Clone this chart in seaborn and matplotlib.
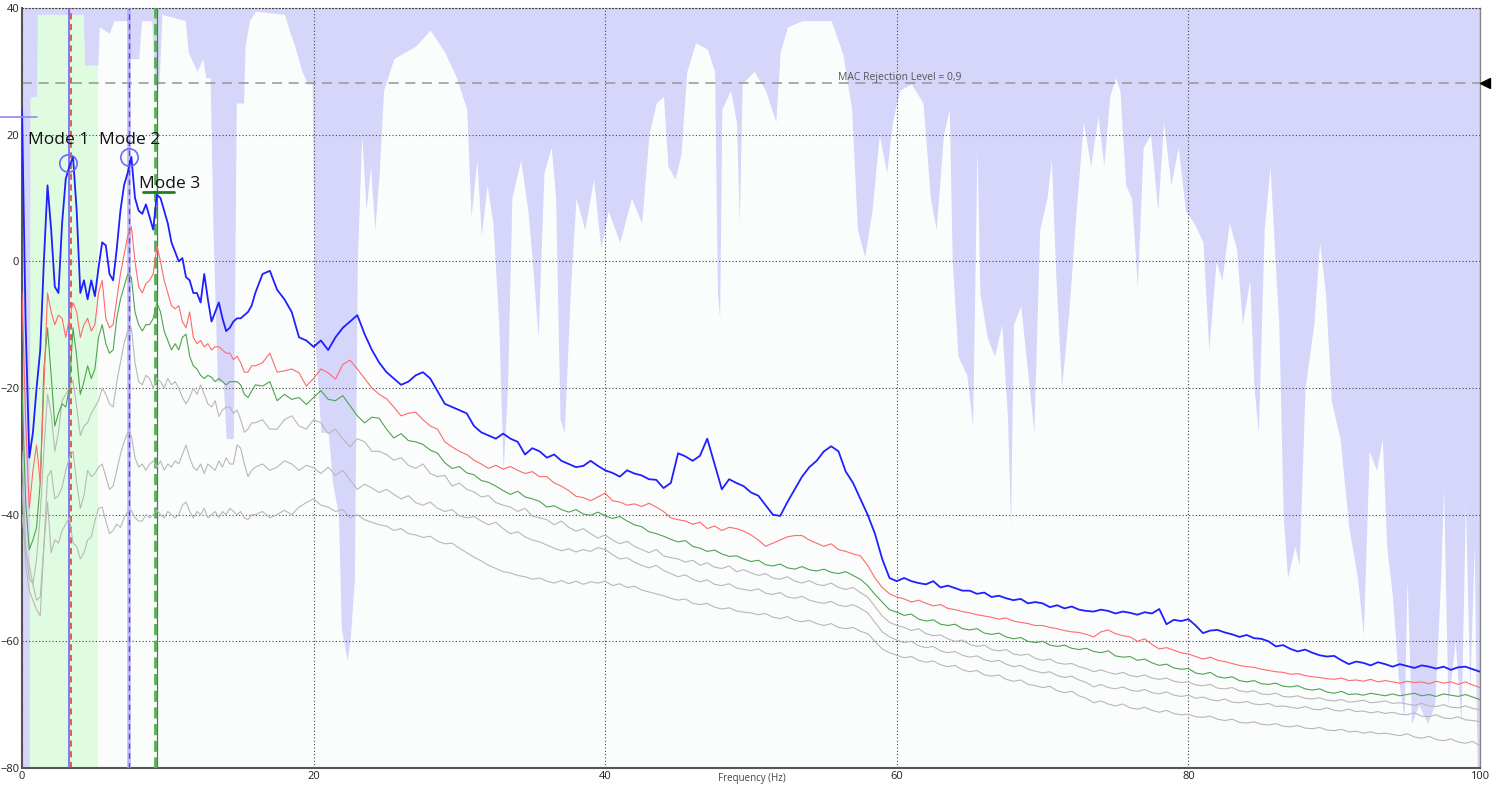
import numpy as np
import pandas as pd
import matplotlib
matplotlib.use("Agg")
import matplotlib.pyplot as plt
import seaborn as sns

# ---------------- data ----------------
FREQ_LO = np.arange(0, 16, 0.25)          # 0 .. 15.75 Hz
FREQ_HI = np.arange(16, 100.01, 0.5)      # 16 .. 100 Hz

SV1_LO = [24, -10, -31, -27,  -20, -14, 0, 12,  5, -4, -5, 6,  13, 15, 16.5, 8,
          -5, -3, -6, -3,  -5.5, -1, 3, 2.5,  -2, -3, 2, 8,  12, 14, 16.5, 10,
          8, 7.5, 9, 7,  5, 10.5, 10, 8,  6, 3, 1.5, 0,  0.5, -2.5, -3, -5,
          -5, -6.5, -2, -6,  -9.5, -8, -6.5, -9,  -11, -10.5, -9.5, -9,  -9, -8.5, -8, -7]
SV1_HI = [-5, -2, -1.5, -4.5, -6, -8, -12, -12.5, -13.5, -12.5,
          -14, -12, -10.5, -9.5, -8.5, -11.5, -14, -16, -17.5, -18.5,
          -19.5, -19, -18, -17.5, -18.5, -20.5, -22.5, -23, -23.5, -24,
          -26, -27, -27.5, -28, -27.2, -28, -28.5, -30.5, -29.5, -30,
          -31, -30.5, -31.5, -32, -32.5, -32.3, -31.5, -32.3, -33, -33.4,
          -34, -33, -33.5, -33.8, -34.4, -34.5, -35.8, -35, -30.3, -30.8,
          -31.5, -30.7, -28, -32, -36, -34.4, -35, -35.5, -36.5, -37,
          -38.5, -40, -40.2, -38, -36, -34, -32.5, -31.5, -30, -29.2,
          -30, -33.2, -35, -37.5, -40, -43, -47, -50, -50.5, -50,
          -50.5, -50.8, -51, -50.5, -51.5, -51.2, -51.6, -52, -52, -52.5,
          -52.3, -53, -52.8, -53.2, -53.5, -53.3, -54, -53.8, -54, -54.6,
          -54.3, -54.8, -54.5, -55, -55.2, -55.3, -55, -55.2, -55.6, -55.3,
          -55.5, -55.8, -55.4, -55.6, -54.9, -57.3, -56.6, -56.8, -56.5, -57.5,
          -58.7, -58.3, -58.2, -58.6, -58.9, -59.3, -59, -59.5, -59.6, -60,
          -60.8, -60.6, -61.2, -61.6, -61.3, -61.8, -62.2, -62.4, -62.3, -63,
          -63.6, -63.2, -63.4, -63.8, -63.3, -63.6, -64, -63.6, -63.9, -64.2,
          -63.8, -64, -64.3, -64, -64.5, -64.1, -64, -64.4, -64.8]

SV2_LO = [-5, -25, -39, -33,  -29, -35, -20, -5,  -8, -10, -8.5, -9,  -12, -9, -6.5, -8,
          -12, -10, -9, -11,  -10, -5, -3, -9,  -10.5, -10, -6, -2,  1, 4, 5.5, 0,
          -4, -5, -3.5, -3,  -2, 2.5, 0, -3,  -5, -7, -7.5, -7,  -9.5, -10.5, -8, -12,
          -13, -12.5, -13.5, -13,  -14, -13.5, -13.5, -14,  -14.5, -14.5, -15.5, -15,  -16, -17.5, -17.5, -16.5]
SV2_HI = [-16.5, -16, -14.5, -17.5, -17.3, -17, -17.6, -19.7, -18.5, -17,
          -17.6, -18.6, -16.3, -15.6, -17, -18.5, -20, -21, -21.7, -23,
          -24.4, -24, -23.8, -25, -26, -26.5, -28.5, -29.3, -30, -30.5,
          -31.4, -32, -32.7, -32.2, -32.8, -32.4, -33, -33.5, -33.2, -34,
          -34, -35, -35.5, -36.2, -37.1, -37.3, -37.8, -37.2, -36.6, -37.8,
          -38, -38.5, -38.3, -38.7, -38.2, -38.8, -39.5, -40.5, -40.8, -41,
          -41.5, -41.2, -42.2, -41.8, -42.5, -42, -42.2, -42.6, -43.2, -44,
          -45, -44.5, -44, -43.5, -43.3, -43.3, -44, -44.5, -45, -44.6,
          -45.5, -45.8, -46.2, -46.5, -48, -50, -51.5, -52.5, -53, -53.3,
          -53.8, -53.5, -54, -54.4, -54.2, -54.8, -55, -55.3, -55.5, -55.8,
          -56, -56.2, -56.5, -56.3, -56.8, -57, -57.2, -57.5, -57.5, -57.8,
          -58, -58.3, -58.5, -58.6, -58.9, -59.3, -58.5, -58.2, -58.8, -59.1,
          -59.3, -60, -59.6, -60.5, -61.2, -61, -61.4, -61.8, -62, -62.4,
          -62.8, -62.5, -63, -63.2, -63.5, -63.8, -64, -64.1, -64.4, -64.6,
          -64.8, -64.9, -65.2, -65.1, -65.4, -65.6, -65.7, -65.9, -66, -65.8,
          -66.2, -66.1, -66.3, -66, -66.4, -66.2, -66.4, -66.6, -66.3, -66.5,
          -66.4, -66.7, -66.3, -66.6, -66.4, -66.8, -66.4, -66.9, -67.3]

SV3_LO = [-20, -38, -45.5, -44,  -42, -35, -17, -10.5,  -18, -26, -24, -22.5,  -23, -20, -10.5, -15,
          -21, -19, -16.5, -18.5,  -17, -12, -10, -13,  -14.5, -14, -9, -6,  -4, -2, -2.5, -8,
          -10, -11, -10, -10,  -9, -6.5, -8, -11,  -12.5, -14, -13, -14,  -12, -11.5, -15, -16.5,
          -17, -18, -18.5, -18,  -18.3, -19, -18.5, -19,  -19.5, -19, -19, -19,  -19.5, -21, -21.5, -20.5]
SV3_HI = [-19.5, -19.7, -19, -22, -21, -21.8, -21.5, -22.6, -21.5, -20.4,
          -21.8, -22, -21.2, -22.8, -24.4, -25.5, -24.6, -24.8, -26.5, -27.9,
          -27.2, -28.3, -28.5, -28.9, -29.8, -30.3, -31.8, -32.7, -32.4, -33.4,
          -33.7, -34.6, -34.9, -35.5, -36.2, -36.8, -36.3, -37.2, -37.5, -37.9,
          -38.8, -38.6, -39.2, -39.6, -39.2, -39.9, -40.1, -39.6, -40.2, -40.6,
          -40.3, -41, -41.6, -41.9, -42.7, -43, -43.4, -43.9, -44.3, -44.1,
          -45, -45.3, -45.8, -45.6, -46.2, -46.6, -46.5, -47, -47.4, -47.2,
          -47.9, -48.1, -47.8, -48.4, -48.6, -48.2, -48.7, -48.9, -48.6, -49.1,
          -49.3, -49, -49.6, -50.2, -51.2, -52.6, -53.8, -55, -55.4, -55.9,
          -55.7, -56.5, -56.8, -56.6, -57.3, -57.5, -57.3, -58, -58.2, -58,
          -58.7, -58.9, -58.7, -59.3, -59.6, -59.4, -60, -60.2, -60, -60.6,
          -60.8, -60.6, -61.1, -61.3, -61.1, -61.6, -61.8, -61.5, -62.3, -62.5,
          -62.4, -63, -62.8, -63.4, -63.8, -63.6, -64.2, -64.4, -64.3, -65,
          -65.2, -64.9, -65.6, -65.8, -65.6, -66.2, -66.4, -66.2, -66.7, -66.8,
          -66.6, -67.1, -67.2, -67, -67.5, -67.7, -67.5, -68, -68.2, -67.9,
          -68.4, -68.3, -68.5, -68.2, -68.4, -68.6, -68.3, -68.6, -68.4, -68.2,
          -68.6, -68.4, -68.7, -68.3, -68.5, -68.7, -68.4, -68.8, -69.2]

SV4_LO = [-30, -45, -50, -51,  -47, -40, -30, -21,  -24, -30, -27, -22,  -21, -20, -18.8, -23,
          -27.5, -26, -25.5, -24,  -23, -22, -20, -21,  -22.5, -23, -19, -16,  -13, -11, -10.5, -16,
          -19, -19.5, -18, -18.5,  -20, -18.5, -19, -20,  -18.5, -19.5, -19, -20,  -21.5, -22.5, -21.5, -20,
          -21, -19.5, -21, -22.5,  -23, -22, -24.5, -23.5,  -23, -23, -24, -23.5,  -25, -27, -26.5, -25.5]
SV4_HI = [-25.5, -25, -26.5, -26.5, -25, -24.4, -26, -26.5, -25, -25.5,
          -27.2, -26.5, -28, -29.3, -28, -28.5, -30, -30, -30.5, -31.4,
          -31, -32.2, -32.7, -32, -33.5, -34, -33.8, -35.5, -35, -36,
          -36.4, -37.2, -37, -38.1, -38.5, -38.8, -39.5, -39, -40.2, -40.5,
          -40.8, -41.6, -41, -42, -42.6, -42.2, -43, -43.7, -43.2, -44,
          -44.6, -44.2, -45, -45.5, -46, -45.5, -46.5, -46.8, -47, -47.5,
          -47.2, -48, -47.6, -48.3, -48.5, -48.1, -49, -48.7, -49.2, -49.6,
          -49.3, -50, -50.2, -49.8, -50.5, -50.8, -50.4, -51, -51.2, -50.8,
          -51.5, -51.8, -51.5, -52.3, -53, -54.5, -56, -57, -57.5, -57.8,
          -58.3, -58, -58.8, -59.1, -59, -59.6, -60, -59.8, -60.5, -60.8,
          -60.6, -61.3, -61.5, -61.3, -62, -62.2, -62, -62.7, -63, -62.8,
          -63.4, -63.6, -63.5, -64, -64.3, -64.8, -64.5, -64.9, -65.2, -64.9,
          -65.4, -65.6, -65.3, -65.8, -66, -65.8, -66.3, -66.5, -66.4, -66.9,
          -67, -66.8, -67.4, -67.5, -67.3, -67.8, -68, -67.8, -68.3, -68.4,
          -68.2, -68.7, -68.8, -68.6, -69, -69.1, -68.9, -69.3, -69.4, -69.2,
          -69.6, -69.5, -69.3, -69.7, -69.6, -69.4, -69.8, -69.7, -69.9, -70.1,
          -69.8, -70.2, -70.3, -70, -70.4, -70.5, -70.2, -70.6, -70.8]

SV5_LO = [-35, -48, -52, -53.5,  -55, -56, -45, -34,  -33, -37.5, -37, -35.7,  -33, -31, -30, -35,
          -39, -37, -33, -34,  -33.5, -32.5, -32, -34,  -36, -35.5, -33, -30.5,  -28.5, -27, -27.5, -31,
          -32.5, -32, -33, -32,  -31.5, -32.5, -31.5, -33,  -32, -32.5, -31.5, -32,  -30.5, -29, -31, -32.5,
          -33, -32, -33.5, -32,  -32.5, -33, -31.5, -32.5,  -31, -32, -32, -29,  -29.5, -32, -34, -33]
SV5_HI = [-32.5, -32, -33, -32.5, -31.5, -32, -33, -32.2, -32.6, -33.5,
          -32.5, -33.8, -33, -34.5, -36, -35.2, -35.8, -36.5, -36, -36.8,
          -37.5, -37, -38.1, -38.5, -38, -39, -39.5, -39.2, -40.2, -40.5,
          -40.3, -41, -41.6, -41.2, -42.2, -43, -42.7, -43.5, -44, -44.3,
          -44.8, -45.3, -45.7, -45.4, -45.9, -45.5, -45.8, -45.2, -45.5, -46.3,
          -47, -46.8, -47.5, -48, -48.4, -48, -48.8, -49.3, -49.8, -49.5,
          -50.2, -50.6, -50.3, -51, -51.2, -50.9, -51.6, -51.8, -52, -51.7,
          -52.4, -52.6, -52.3, -53, -53.2, -52.9, -53.5, -53.8, -54, -53.7,
          -54.3, -54.5, -54.2, -54.8, -55.5, -57, -58.5, -59.3, -59.8, -60.2,
          -60, -60.7, -61, -60.8, -61.5, -61.8, -61.6, -62.2, -62.5, -62.3,
          -62.9, -63.2, -63, -63.6, -64, -63.8, -64.4, -64.7, -65, -64.8,
          -65.4, -65.7, -65.5, -66.1, -66.5, -67.2, -66.8, -67.3, -67.5, -67.2,
          -67.7, -67.9, -67.6, -68.1, -68.3, -68, -68.5, -68.7, -68.5, -69,
          -68.8, -69.2, -69.4, -69.1, -69.6, -69.7, -69.5, -69.9, -70, -69.8,
          -70.3, -70.2, -70.4, -70.6, -70.3, -70.7, -70.8, -70.5, -70.9, -71,
          -70.7, -71.1, -71, -71.3, -71.1, -71.4, -71.2, -71.5, -71.6, -71.3,
          -71.8, -71.9, -71.6, -72.1, -72.2, -71.9, -72.4, -72.5, -72.7]

SV6_LO = [-40, -46, -48, -51,  -53.5, -53, -45, -38,  -46, -44, -44.5, -42.5,  -41.5, -40.5, -44.5, -45,
          -47, -46, -44, -43.5,  -41, -39, -38.8, -41,  -43, -42.5, -41.5, -42,  -40.5, -39.5, -39.3, -40.5,
          -41, -41, -40, -40.5,  -40, -39.3, -40, -40.5,  -39.5, -40, -40.5, -40,  -38.5, -38, -39.5, -40.5,
          -39.5, -40, -39, -40.5,  -40, -39.5, -40.5, -39.5,  -40, -39, -39.5, -40,  -39.5, -40.5, -40.8, -40]
SV6_HI = [-40, -39.5, -40.5, -40, -39.3, -40, -38.8, -38.1, -37.5, -38.5,
          -38.8, -39.5, -39.2, -40.5, -40, -40.8, -41.2, -41.6, -41.8, -42.5,
          -42.2, -43, -43.2, -43.6, -43.4, -44.2, -44.6, -44.5, -45.3, -46,
          -46.7, -47.3, -48, -48.5, -49, -49.2, -49.6, -49.8, -50.2, -50,
          -50.5, -50.8, -50.4, -50.9, -50.5, -51, -50.6, -50.8, -50.5, -51.2,
          -50.9, -51.5, -51.3, -51.9, -52.2, -52.5, -52.8, -53.2, -53.5, -53.3,
          -54, -54.2, -54, -54.6, -54.9, -54.7, -55.2, -55.4, -55.5, -55.8,
          -55.6, -56.2, -56.4, -56.1, -56.7, -56.9, -56.7, -57.2, -57.5, -57.2,
          -57.8, -58, -57.8, -58.4, -58.8, -60, -61.2, -61.8, -62.2, -62.6,
          -62.4, -63, -63.3, -63.1, -63.7, -64, -63.8, -64.5, -64.8, -64.6,
          -65.3, -65.5, -65.3, -66, -66.3, -66.1, -66.8, -67, -67.3, -67.1,
          -67.8, -68.1, -67.9, -68.6, -69, -69.7, -69.4, -69.9, -70.2, -69.9,
          -70.5, -70.7, -70.4, -70.9, -71.2, -70.9, -71.4, -71.6, -71.5, -71.9,
          -72, -71.8, -72.3, -72.5, -72.3, -72.8, -72.9, -72.7, -73.1, -73.2,
          -73, -73.4, -73.5, -73.3, -73.7, -73.8, -73.6, -74, -74.1, -73.9,
          -74.3, -74.2, -74.5, -74.3, -74.6, -74.5, -74.7, -74.9, -74.6, -75.1,
          -75.3, -75, -75.5, -75.7, -75.4, -75.9, -76.1, -75.8, -76.5]

# lower edge of the MAC shading (frequency, level)
MAC_FREQ = [0.0, 0.5, 0.55, 1.0, 1.05, 4.2, 4.3, 5.2, 5.3, 6.0, 6.3, 7.3, 7.4, 8.0, 8.2, 8.9,
            9.1, 9.4, 9.6, 11.2, 11.4, 12.0, 12.4, 12.6, 12.9, 13.1, 13.4, 13.8, 14.0, 14.5,
            14.7, 15.2, 15.3, 15.6, 16.0, 18.0, 18.4, 18.7, 19.2, 19.6, 19.9, 20.1, 20.5, 21.0,
            21.3, 21.7, 21.9, 22.3, 22.5, 22.8, 23.0, 23.3, 23.6, 23.9, 24.2, 24.5, 24.8, 25.5,
            27.0, 28.0, 29.0, 29.8, 30.5, 30.8, 31.2, 31.5, 31.9, 32.3, 32.7, 33.0, 33.3, 33.6,
            34.2, 34.7, 35.0, 35.4, 35.8, 36.3, 36.6, 36.9, 37.2, 37.6, 38.0, 38.6, 39.2, 39.7,
            40.2, 41.0, 41.8, 42.5, 43.0, 43.5, 44.0, 44.3, 44.8, 45.2, 45.6, 46.2, 47.0, 47.5,
            47.7, 47.85, 48.0, 48.6, 49.0, 49.2, 49.4, 50.2, 51.0, 51.7, 52.0, 52.5, 53.5, 55.5,
            56.3, 56.9, 57.3, 57.8, 58.3, 58.8, 59.3, 59.7, 60.2, 61.0, 61.8, 62.3, 62.7, 63.2,
            63.6, 63.8, 64.2, 64.8, 65.2, 65.5, 65.7, 66.2, 66.7, 67.2, 67.6, 67.8, 68.0, 68.5,
            69.0, 69.4, 69.8, 70.3, 70.6, 70.9, 71.3, 71.8, 72.3, 72.8, 73.3, 73.8, 74.2, 74.6,
            75.0, 75.3, 75.7, 76.1, 76.5, 76.9, 77.4, 77.9, 78.3, 78.8, 79.3, 79.8, 80.4, 81.0,
            81.4, 81.9, 82.3, 82.8, 83.3, 83.7, 84.2, 84.5, 84.8, 85.2, 85.6, 85.9, 86.2, 86.5,
            86.8, 87.3, 87.6, 88.0, 88.6, 89.0, 89.4, 89.8, 90.4, 91.0, 91.6, 92.0, 92.4, 92.9,
            93.3, 93.6, 94.0, 94.4, 94.8, 95.0, 95.3, 95.8, 96.4, 96.9, 97.3, 97.5, 97.8, 98.3,
            98.7, 99.0, 99.3, 99.6, 99.8, 100.0]
MAC_LEVEL = [-80, -80, 26, 26, 39, 39, 31, 31, 37, 36, 38, 38, 32, 32, 38, 38,
             28, 28, 39, 38, 33, 30, 32, 29, 29, 5, -19, -19, -28, -28,
             25, 25, 34, 38, 39.5, 39, 36, 34, 30, 28, 28, -13, -27, -27,
             -35, -40, -58, -63, -60, -50, 0, 20, 8, 15, 5, 14, 27, 32,
             34, 36.5, 33, 29, 24, 7, 16, 4, 12, 6, -10, -33, -20, 10,
             16, 8, 0, -12, 14, 18, 10, -25, -27, -5, 10, 5, 13, 2,
             8, 3, 10, 6, 20, 25, 26, 15, 13, 17, 30, 34.5, 33.5, 30,
             -5, -9, 24, 27, 22, 6, 28, 30, 27, 22, 33, 37, 38, 38,
             32.7, 24, 5, 0.7, 8, 20, 14, 22, 27, 28, 25, 10, 5, 20,
             24, 0, -15, -18, -26, 18, -5, -12, -15, -10, -25, -42, -10, -7,
             -18, -27, 5, 10, 16, -2, -20, -8, 8, 22, 15, 23, 15, 26,
             29, 27, 12, 10, -4, 18, 20, 8, 22, 12, 18, 8, 6, 3,
             -14, 0, -3, 6, 2, -10, -3, -20, -27, 5, 15, 2, -10, -40,
             -50, -45, -48, -20, -10, 3, -5, -22, -28, -42, -50, -59, -30, -33,
             -28, -45, -53, -66, -72, -50, -73, -70, -73, -70, -50, -36, -70, -60,
             -73, -38, -68, -45, -80, -80]

SERIES = ["SV1", "SV2", "SV3", "SV4", "SV5", "SV6"]
COLORS = {"SV1": "#1f1fff", "SV2": "#ff6a6a", "SV3": "#4fa34f",
          "SV4": "#b8b8b8", "SV5": "#b8b8b8", "SV6": "#b8b8b8"}
WIDTHS = {"SV1": 1.3, "SV2": 0.8, "SV3": 0.8, "SV4": 0.8, "SV5": 0.8, "SV6": 0.8}

freq = np.concatenate([FREQ_LO, FREQ_HI])
curves = {
    "SV1": SV1_LO + SV1_HI, "SV2": SV2_LO + SV2_HI, "SV3": SV3_LO + SV3_HI,
    "SV4": SV4_LO + SV4_HI, "SV5": SV5_LO + SV5_HI, "SV6": SV6_LO + SV6_HI,
}
df = pd.concat([pd.DataFrame({"freq": freq, "db": curves[s], "sv": s}) for s in SERIES],
               ignore_index=True)

# ---------------- figure ----------------
sns.set_style("white")
plt.rcParams["font.family"] = ["Open Sans", "DejaVu Sans"]

fig = plt.figure(figsize=(15.05, 7.86), dpi=100)
fig.patch.set_facecolor("white")
ax = fig.add_axes([22 / 1505, 18 / 786, 1458 / 1505, 760 / 786])
ax.set_facecolor("#fbfdfd")
ax.set_xlim(0, 100)
ax.set_ylim(-80, 40)

# selection band and MAC shading
ax.axvspan(0.5, 5.2, color="#e0fce0", lw=0, zorder=0.5)
ax.fill_between(MAC_FREQ, MAC_LEVEL, 40, color="#d6d6fb", lw=0, zorder=0.8)

# singular value curves (draw lowest first)
for s in SERIES[::-1]:
    sub = df[df["sv"] == s]
    sns.lineplot(data=sub, x="freq", y="db", ax=ax, color=COLORS[s],
                 linewidth=WIDTHS[s], estimator=None, sort=False, legend=False, zorder=3)

# MAC rejection level
MAC_LEVEL_LINE = 28.15
ax.axhline(MAC_LEVEL_LINE, color="#9c9c9c", lw=1.2, ls=(0, (6, 4)), zorder=2.5)
ax.text(56.0, 28.6, "MAC Rejection Level = 0,9", fontsize=7.5, color="#555555",
        ha="left", va="baseline", zorder=4)
ax.plot([100.35], [MAC_LEVEL_LINE], marker="<", color="black", ms=7, clip_on=False, zorder=5)

# mode lines
ax.axvline(3.22, color="#5a5aff", lw=1.1, zorder=2.6)
ax.axvline(3.36, color="#e03030", lw=1.1, ls=(0, (4, 3)), zorder=2.7)
ax.axvline(7.36, color="#a8a8ff", lw=2.6, alpha=0.8, zorder=2.6)
ax.axvline(7.36, color="#8a3aa0", lw=1.0, ls=(0, (4, 3)), zorder=2.7)
ax.axvline(9.12, color="#55b055", lw=2.0, ls=(0, (4, 2)), zorder=2.6)
ax.axvline(9.27, color="#3a8a3a", lw=0.9, zorder=2.7)

# picked peaks
ax.plot([3.18], [15.5], marker="o", ms=12.5, mfc="none", mec="#6a6aff", mew=1.2, zorder=5)
ax.plot([7.36], [16.4], marker="o", ms=12.5, mfc="none", mec="#6a6aff", mew=1.2, zorder=5)
ax.plot([8.3, 10.4], [11.0, 11.0], color="#1e7f1e", lw=2, zorder=5)

ax.text(0.41, 18.6, "Mode 1", fontsize=12.5, color="#111111", va="baseline", zorder=6)
ax.text(5.31, 18.6, "Mode 2", fontsize=12.5, color="#111111", va="baseline", zorder=6)
ax.text(8.05, 11.6, "Mode 3", fontsize=12.5, color="#111111", va="baseline", zorder=6)

# left marker
ax.plot([-1.5, 1.0], [22.8, 22.8], color="#8c8cf0", lw=1.2, clip_on=False, zorder=5)

# axes styling
ax.set_xticks([0, 20, 40, 60, 80, 100])
ax.set_yticks([-80, -60, -40, -20, 0, 20, 40])
ax.set_axisbelow("line")
ax.grid(True, color="#444444", lw=0.8, ls=(0, (1, 2)))
ax.tick_params(length=0, labelsize=8, labelcolor="#222222", pad=2)
ax.set_xlabel("")
ax.set_ylabel("")
for side in ("left", "bottom"):
    ax.spines[side].set_color("#555555")
    ax.spines[side].set_linewidth(1.5)
ax.spines["right"].set_color("#888888")
ax.spines["right"].set_linewidth(1.0)
ax.spines["top"].set_color("#444444")
ax.spines["top"].set_linewidth(0.8)
ax.spines["top"].set_linestyle((0, (1, 2)))

fig.text(752 / 1505, 1.5 / 786, "Frequency (Hz)", ha="center", va="bottom",
         fontsize=7, color="#444444")

fig.savefig("out.png", dpi=100, facecolor="white")
